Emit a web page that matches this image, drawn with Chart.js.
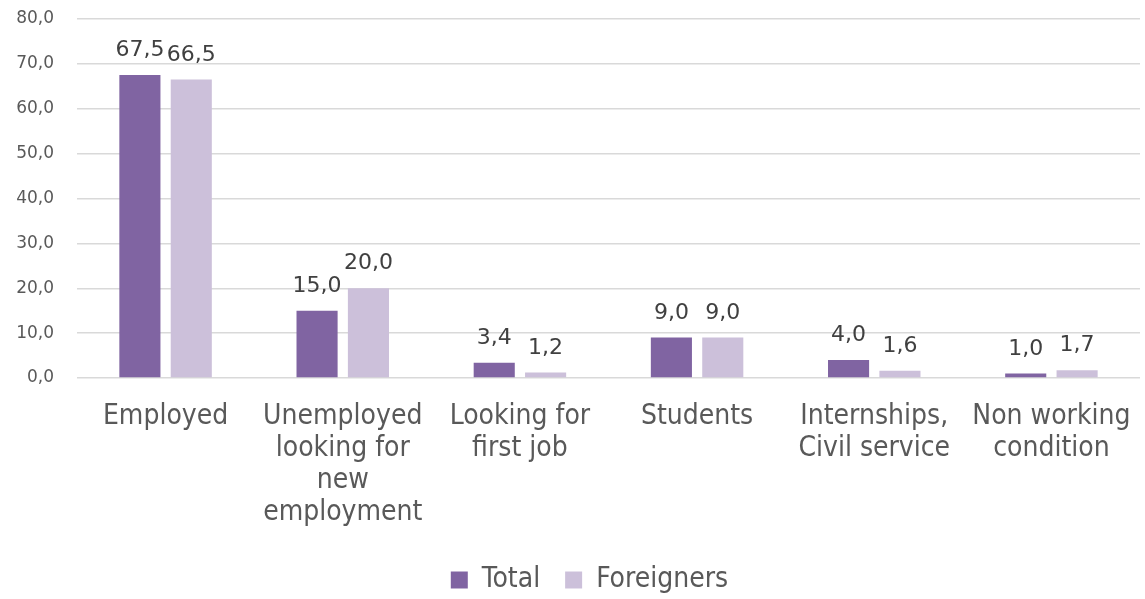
<!DOCTYPE html>
<html>
<head>
<meta charset="utf-8">
<script src="https://cdn.jsdelivr.net/npm/chart.js@4"></script>
<style>
  html, body { margin: 0; padding: 0; background: #fff; }
  #wrap { width: 1145px; height: 599px; }
</style>
</head>
<body>
<div id="wrap"><canvas id="grafico"></canvas></div>
<script>
const categorias = [
  "Employed",
  ["Unemployed", "looking for", "new", "employment"],
  ["Looking for", "first job"],
  "Students",
  ["Internships,", "Civil service"],
  ["Non working", "condition"]
];
const total = [67.5, 15.0, 3.4, 9.0, 4.0, 1.0];
const foreigners = [66.5, 20.0, 1.2, 9.0, 1.6, 1.7];
const yTicks = [0, 10, 20, 30, 40, 50, 60, 70, 80];

const fuente = "'DejaVu Sans', Tahoma, sans-serif";
const fuenteCond = "'DejaVu Sans Condensed', 'DejaVu Sans', Tahoma, sans-serif";

// numeros con coma decimal
const fmt = v => v.toFixed(1).replace(".", ",");

// etiquetas de valor encima de cada barra
const etiquetas = {
  id: "etiquetas",
  afterDatasetsDraw(chart) {
    const ctx = chart.ctx;
    ctx.save();
    ctx.font = "22px " + fuente;
    ctx.fillStyle = "#404040";
    ctx.textAlign = "center";
    ctx.textBaseline = "alphabetic";
    chart.data.datasets.forEach((ds, i) => {
      chart.getDatasetMeta(i).data.forEach((bar, j) => {
        ctx.fillText(fmt(ds.data[j]), bar.x, bar.y - 19);
      });
    });
    ctx.restore();
  }
};

// leyenda un poco mas abajo y a la derecha
const moverLeyenda = {
  id: "moverLeyenda",
  afterLayout(chart) {
    const lg = chart.legend;
    lg.top += 5; lg.bottom += 5;
    lg.left += 17; lg.right += 17;
  }
};

new Chart(document.getElementById("grafico"), {
  type: "bar",
  data: {
    labels: categorias,
    datasets: [
      { label: "Total", data: total, backgroundColor: "#8064A2" },
      { label: "Foreigners", data: foreigners, backgroundColor: "#CCC0DA" }
    ]
  },
  options: {
    responsive: true,
    maintainAspectRatio: false,
    animation: false,
    categoryPercentage: 0.58,
    barPercentage: 0.8,
    layout: { padding: { top: 0, right: 0, left: 0, bottom: 0 } },
    scales: {
      x: {
        grid: { display: false },
        border: { display: false },
        afterFit: s => { s.height = 158; s.paddingRight = 5; s.paddingLeft = 0; },
        ticks: {
          autoSkip: false,
          maxRotation: 0,
          padding: 15,
          color: "#595959",
          font: { family: fuenteCond, size: 28, lineHeight: 32 / 28 }
        }
      },
      y: {
        min: 0,
        max: 80,
        afterBuildTicks: s => { s.ticks = yTicks.map(v => ({ value: v })); },
        afterFit: s => { s.width = 77; s.paddingTop = 19; },
        border: { display: false },
        grid: { color: "#D9D9D9", lineWidth: 1.5, drawTicks: false },
        ticks: {
          padding: 23,
          color: "#595959",
          font: { family: fuente, size: 17 },
          callback: v => fmt(v)
        }
      }
    },
    plugins: {
      tooltip: { enabled: false },
      legend: {
        position: "bottom",
        labels: {
          boxWidth: 17,
          boxHeight: 17,
          padding: 25,
          color: "#595959",
          font: { family: fuenteCond, size: 28 }
        }
      }
    }
  },
  plugins: [etiquetas, moverLeyenda]
});
</script>
</body>
</html>
